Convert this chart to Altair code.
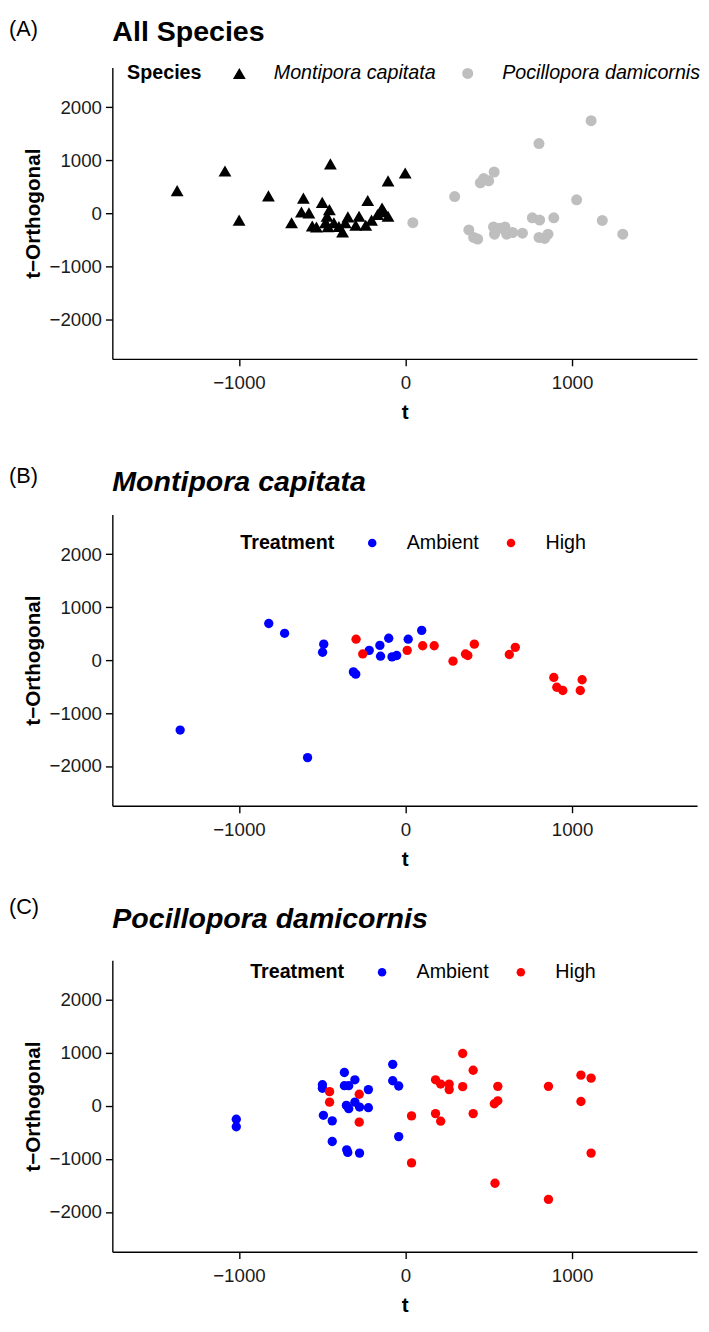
import altair as alt
import pandas as pd

FONT = "Liberation Sans"

# ---------------- Panel A: all species ----------------
a_mc_t = [-1371, -1084, -999, -823, -684, -613, -625, -580, -560, -535, -500, -481, -457,
          -451, -471, -430, -465, -378, -362, -346, -299, -279, -239, -227, -204, -168,
          -141, -130, -105, -105, -2, -400]
a_mc_o = [426, 796, -130, 328, -179, 284, 24, 6, -241, -259, 204, -179, 68,
          932, -56, -179, -253, -352, -179, -68, -228, -56, -228, 241, -130, -25,
          98, 30, -56, 611, 759, -250]
a_pd_t = [44, 295, 380, 409, 433, 449, 469, 499, 532, 528, 534, 564, 597, 607, 643, 702,
          761, 801, 805, 801, 835, 855, 890, 1027, 1114, 1181, 1304]
a_pd_o = [-179, 315, -315, -457, -488, 574, 654, 611, 778, -259, -395, -284, -259, -395,
          -364, -377, -87, 1315, -130, -457, -475, -395, -87, 253, 1747, -136, -395]

# ---------------- Panel B: Montipora capitata ----------------
b_amb_t = [-1353, -821, -726, -588, -498, -491, -313, -299, -218, -154, -150, -101, -81, -53, 16, 97]
b_amb_o = [-1320, 691, 506, -1840, 148, 302, -222, -265, 185, 278, 74, 413, 61, 87, 395, 561]
b_high_t = [-297, -257, 10, 103, 172, 285, 360, 374, 413, 623, 659, 890, 908, 944, 1049, 1060]
b_high_o = [395, 117, 185, 272, 272, -19, 117, 87, 302, 106, 241, -327, -512, -574, -574, -370]

# ---------------- Panel C: Pocillopora damicornis ----------------
c_amb_t = [-1016, -1016, -499, -499, -493, -440, -440, -367, -367, -341, -304, -353, -347,
           -276, -355, -341, -304, -276, -223, -223, -77, -77, -41, -41]
c_amb_o = [-249, -391, 402, 335, -175, -279, -670, 633, 384, 384, 495, -826, -875,
           -888, 12, -50, 74, -19, 310, -31, 787, 477, 378, -577]
c_high_t = [-456, -456, -278, -278, 36, 36, 180, 211, 262, 262, 180, 211, 343, 343, 406, 406,
            554, 533, 554, 537, 858, 858, 1053, 1114, 1053, 1114]
c_high_o = [272, 74, 223, -304, -186, -1073, 495, 415, 415, 310, -143, -286, 992, 366, 676, -143,
            372, 43, 99, -1458, 372, -1762, 583, 527, 86, -888]

species = ["Montipora capitata", "Pocillopora damicornis"]
treatments = ["Ambient", "High"]
x_ticks = [-1000, 0, 1000]
y_ticks = [-2000, -1000, 0, 1000, 2000]

XDOM = [-1760, 1750]
YDOM = [-2750, 2750]
W, H = 594, 296


def xenc():
    return alt.X("t:Q", scale=alt.Scale(domain=XDOM, nice=False, zero=False),
                 axis=alt.Axis(values=x_ticks, title="t", format="d"))


def yenc():
    return alt.Y("o:Q", scale=alt.Scale(domain=YDOM, nice=False, zero=False),
                 axis=alt.Axis(values=y_ticks, title="t\u2212Orthogonal", format="d"))


def text_layer(txt, x, y, size, weight="normal", style="normal"):
    return alt.Chart(pd.DataFrame({"s": [txt]})).mark_text(
        align="left", baseline="alphabetic", font=FONT, fontSize=size,
        fontWeight=weight, fontStyle=style, color="black"
    ).encode(x=alt.value(x), y=alt.value(y), text="s:N")


def marker(y):
    return alt.Chart(pd.DataFrame({"s": [0]})).mark_rule(color="white", strokeWidth=1).encode(
        x=alt.value(-105), x2=alt.value(-104), y=alt.value(y), y2=alt.value(y))


# Panel A
dfA = pd.DataFrame({
    "t": a_mc_t + a_pd_t,
    "o": a_mc_o + a_pd_o,
    "Species": [species[0]] * len(a_mc_t) + [species[1]] * len(a_pd_t),
})
legA = alt.Legend(title="Species", orient="none", legendX=15, legendY=-4,
                  direction="horizontal", titleOrient="left", labelFontStyle="italic")
ptsA = alt.Chart(dfA).mark_point(filled=True, opacity=1).encode(
    x=xenc(), y=yenc(),
    shape=alt.Shape("Species:N", scale=alt.Scale(domain=species, range=["triangle-up", "circle"]), legend=legA),
    color=alt.Color("Species:N", scale=alt.Scale(domain=species, range=["black", "#BEBEBE"]), legend=legA),
    size=alt.Size("Species:N", scale=alt.Scale(domain=species, range=[170, 125]), legend=legA),
)
panelA = alt.layer(
    ptsA,
    text_layer("(A)", -105, -32, 22),
    text_layer("All Species", 0, -27, 29, "bold"),
    marker(-49.5), marker(389.5),
).properties(width=W, height=H)


def treat_panel(amb_t, amb_o, high_t, high_o, lab, title, legx, legy, top, bottom, lab_y, title_y):
    df = pd.DataFrame({
        "t": amb_t + high_t,
        "o": amb_o + high_o,
        "Treatment": [treatments[0]] * len(amb_t) + [treatments[1]] * len(high_t),
    })
    leg = alt.Legend(title="Treatment", orient="none", legendX=legx, legendY=legy,
                     direction="horizontal", titleOrient="left", symbolSize=75)
    pts = alt.Chart(df).mark_point(filled=True, opacity=1, size=90).encode(
        x=xenc(), y=yenc(),
        color=alt.Color("Treatment:N", scale=alt.Scale(domain=treatments, range=["#0000FF", "#FF0000"]), legend=leg),
    )
    layers = [pts, text_layer(lab, -105, lab_y, 22),
              text_layer(title, 0, title_y, 29, "bold", "italic"), marker(top)]
    if bottom is not None:
        layers.append(marker(bottom))
    return alt.layer(*layers).properties(width=W, height=H)


panelB = treat_panel(b_amb_t, b_amb_o, b_high_t, b_high_o, "(B)", "Montipora capitata",
                     130, 19, -63.5, 375.5, -32, -24)
panelC = treat_panel(c_amb_t, c_amb_o, c_high_t, c_high_o, "(C)", "Pocillopora damicornis",
                     140, 2, -76.5, 362.5, -47, -33)

chart = alt.vconcat(panelA, panelB, panelC, spacing=0).resolve_scale(
    color="independent", shape="independent", size="independent"
).resolve_legend(
    color="independent", shape="independent", size="independent"
).properties(
    padding={"left": 0, "top": 0, "right": 0, "bottom": 0}
).configure_view(stroke=None).configure_axis(
    grid=False, domainColor="black", domainWidth=1.4, tickColor="black", tickWidth=1.4,
    tickSize=7, labelFont=FONT, labelFontSize=19, labelColor="#1a1a1a",
    titleFont=FONT, titleFontSize=21, titleFontWeight="bold", titleColor="black"
).configure_axisX(labelPadding=8, titlePadding=10).configure_axisY(
    labelPadding=4, titlePadding=6
).configure_legend(
    padding=0, titleFont=FONT, titleFontSize=20, titleFontWeight="bold", titleColor="black",
    labelFont=FONT, labelFontSize=20, labelColor="black", labelOffset=25,
    columnPadding=22, titlePadding=28, symbolStrokeWidth=0, labelLimit=400
)

chart.save("out.html", embed_options={"renderer": "svg", "actions": False})
